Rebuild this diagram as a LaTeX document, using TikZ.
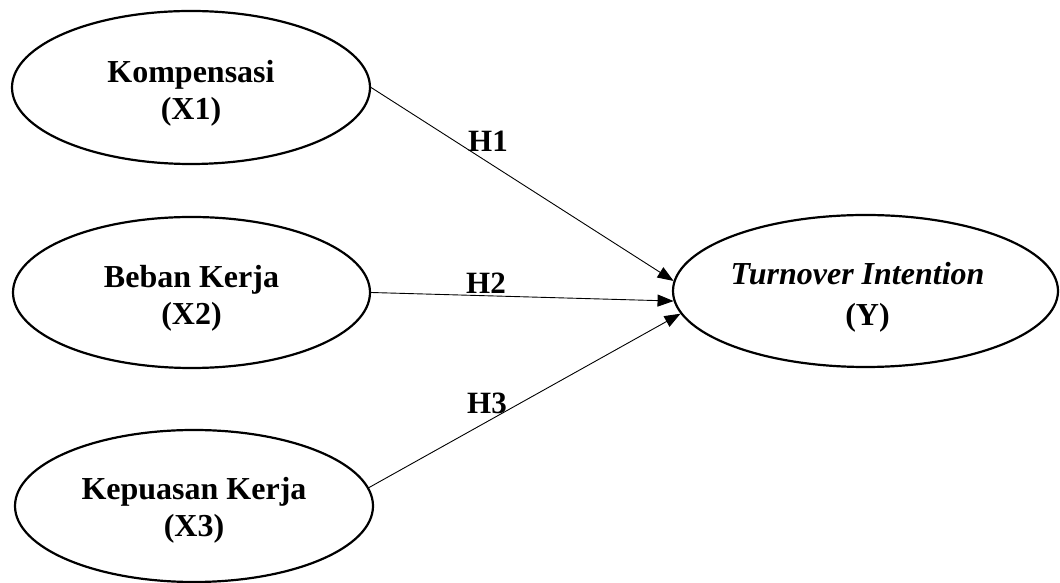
\documentclass[tikz,border=0pt]{standalone}
\usepackage{fontspec}
\setmainfont{Liberation Serif}
\usetikzlibrary{shapes.geometric,arrows.meta}
\begin{document}
\begin{tikzpicture}[x=1pt,y=1pt,
  construct/.style={ellipse,draw,line width=2.2pt,inner sep=0pt,align=center,
    font=\fontsize{32}{37}\selectfont\bfseries},
  path/.style={line width=0.9pt,-{Triangle[length=16pt,width=12pt]}},
  hyp/.style={font=\fontsize{31}{37}\selectfont\bfseries,inner sep=0pt}]
\useasboundingbox (0,0) rectangle (1060,583);
% exogenous constructs (the strut lowers the two-line label a little)
\node[construct,minimum width=358,minimum height=153] (x1) at (191,495.5)
  {\rule{0pt}{33pt}Kompensasi\\(X1)};
\node[construct,minimum width=357,minimum height=151] (x2) at (191.5,290.5)
  {\rule{0pt}{33pt}Beban Kerja\\(X2)};
\node[construct,minimum width=358,minimum height=152] (x3) at (194,77)
  {\rule{0pt}{31pt}Kepuasan Kerja\\(X3)};
% endogenous construct
\node[construct,minimum width=385,minimum height=152,
  font=\fontsize{32}{41}\selectfont\bfseries] (y) at (865.5,292)
  {\rule{0pt}{35pt}\textit{Turnover Intention}\hspace*{16pt}\\\hspace*{4pt}(Y)};
% hypothesised paths
\draw[path] (x1.east) -- (y.177.6);
\draw[path] (x2.east) -- (y.183);
\draw[path] (x3.6) -- (y.187);
% path labels
\node[hyp] (h1) at (488,442) {H1};
\node[hyp] (h2) at (486,300) {H2};
\node[hyp] (h3) at (487,180) {H3};
\end{tikzpicture}
\end{document}
